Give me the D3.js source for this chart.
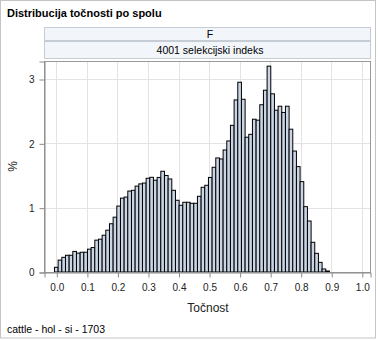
<!DOCTYPE html>
<html>
<head>
<meta charset="utf-8">
<script src="https://cdn.jsdelivr.net/npm/d3@7"></script>
<style>
  body { margin: 0; background: #fff; }
  svg { display: block; }
  text { font-family: "Liberation Sans", Arial, sans-serif; fill: #222; }
</style>
</head>
<body>
<svg id="chart" width="378" height="340"></svg>
<script>
// Histogram bins: midpoints start at 0 and step by binWidth
const binWidth = 0.012;
const binStart = 0;
// Percent of animals in each accuracy bin
const percents = [
  0.073, 0.185, 0.228, 0.26, 0.26, 0.32, 0.293, 0.307, 0.307, 0.355,
  0.38, 0.495, 0.51, 0.572, 0.65, 0.75, 0.852, 1.025, 1.148, 1.165,
  1.258, 1.27, 1.335, 1.37, 1.383, 1.457, 1.472, 1.426, 1.47, 1.566,
  1.50, 1.446, 1.27, 1.115, 1.037, 1.084, 1.084, 1.068, 1.068, 1.177,
  1.317, 1.348, 1.47, 1.628, 1.773, 1.757, 1.897, 2.037, 2.28, 2.675,
  2.95, 2.685, 2.095, 2.14, 2.375, 2.36, 2.60, 2.826, 3.20, 2.77,
  2.515, 2.577, 2.48, 2.577, 2.22, 1.88, 1.638, 1.405, 1.016, 0.793,
  0.462, 0.29, 0.15, 0.047, 0.016
];
const xTicks = [0, 0.1, 0.2, 0.3, 0.4, 0.5, 0.6, 0.7, 0.8, 0.9, 1.0];
const yTicks = [0, 1, 2, 3];
const titleText = "Distribucija točnosti po spolu";
const panelRows = ["F", "4001 selekcijski indeks"];
const xLabel = "Točnost";
const yLabel = "%";
const footnote = "cattle - hol - si - 1703";

const bins = percents.map((p, i) => ({ mid: binStart + i * binWidth, pct: p }));

const svg = d3.select("#chart");
const W = 378, H = 340;
const plot = { left: 44, right: 370, top: 61, bottom: 272 };

// outer border
svg.append("rect")
  .attr("x", 0.5).attr("y", 0.5).attr("width", 375).attr("height", 337.5)
  .attr("fill", "#fff").attr("stroke", "#c4c4c4");

svg.append("text")
  .attr("x", 7).attr("y", 16.5)
  .style("font-size", "11px").style("font-weight", "bold").style("fill", "#000")
  .text(titleText);

// panel header cells
const headerRows = [{ y: 27, h: 13 }, { y: 41, h: 17 }];
panelRows.forEach((label, i) => {
  const r = headerRows[i];
  svg.append("rect")
    .attr("x", plot.left + 0.5).attr("y", r.y + 0.5)
    .attr("width", plot.right - plot.left).attr("height", r.h)
    .attr("fill", "#f2f5fa").attr("stroke", "#c6ccd4");
  svg.append("text")
    .attr("x", (plot.left + plot.right) / 2 + 3).attr("y", r.y + r.h / 2 + 0.5)
    .attr("text-anchor", "middle").attr("dominant-baseline", "central")
    .style("font-size", "10.5px").style("fill", "#000")
    .text(label);
});

const x = d3.scaleLinear()
  .domain([-0.0403, 1.0268])
  .range([plot.left, plot.right]);
const y = d3.scaleLinear()
  .domain([0, (plot.bottom - plot.top) / 64.33])
  .range([plot.bottom, plot.top]);

// grid
const g = svg.append("g");
g.selectAll("line.vg").data(xTicks).join("line")
  .attr("x1", d => Math.round(x(d)) + 0.5).attr("x2", d => Math.round(x(d)) + 0.5)
  .attr("y1", plot.top).attr("y2", plot.bottom)
  .attr("stroke", "#e3e3e3");
g.selectAll("line.hg").data(yTicks).join("line")
  .attr("x1", plot.left).attr("x2", plot.right)
  .attr("y1", d => Math.round(y(d)) + 0.5).attr("y2", d => Math.round(y(d)) + 0.5)
  .attr("stroke", "#e3e3e3");

// bars
svg.append("g").selectAll("rect").data(bins).join("rect")
  .attr("x", d => x(d.mid - binWidth / 2))
  .attr("width", d => x(d.mid + binWidth / 2) - x(d.mid - binWidth / 2))
  .attr("y", d => y(d.pct))
  .attr("height", d => y(0) - y(d.pct))
  .attr("fill", "#cad5e5")
  .attr("stroke", "#000").attr("stroke-width", 1);

// frame
svg.append("rect")
  .attr("x", plot.left + 0.5).attr("y", plot.top + 0.5)
  .attr("width", plot.right - plot.left).attr("height", plot.bottom - plot.top)
  .attr("fill", "none").attr("stroke", "#9a9a9a");

// axes
const xAxis = d3.axisBottom(x).tickValues(xTicks).tickFormat(d3.format(".1f"))
  .tickSize(5).tickPadding(6);
const xa = svg.append("g").attr("transform", `translate(0.5,${plot.bottom + 0.5})`).call(xAxis);
xa.select(".domain").attr("stroke", "#8a8a8a");
xa.selectAll(".tick line").attr("stroke", "#8a8a8a");
xa.selectAll(".tick text").style("font-size", "10px").style("fill", "#222")
  .style("font-family", '"Liberation Sans", Arial, sans-serif');

const yAxis = d3.axisLeft(y).tickValues(yTicks).tickFormat(d3.format("d"))
  .tickSize(5).tickPadding(5);
const ya = svg.append("g").attr("transform", `translate(${plot.left + 0.5},0.5)`).call(yAxis);
ya.select(".domain").attr("stroke", "#8a8a8a");
ya.selectAll(".tick line").attr("stroke", "#8a8a8a");
ya.selectAll(".tick text").style("font-size", "10px").style("fill", "#222")
  .style("font-family", '"Liberation Sans", Arial, sans-serif');

svg.append("text")
  .attr("x", (plot.left + plot.right) / 2 + 1).attr("y", 312)
  .attr("text-anchor", "middle")
  .style("font-size", "12px")
  .text(xLabel);

svg.append("text")
  .attr("transform", `translate(17,${(plot.top + plot.bottom) / 2}) rotate(-90)`)
  .attr("text-anchor", "middle")
  .style("font-size", "12px")
  .text(yLabel);

svg.append("text")
  .attr("x", 7).attr("y", 333)
  .style("font-size", "10.5px").style("fill", "#000")
  .text(footnote);
</script>
</body>
</html>
